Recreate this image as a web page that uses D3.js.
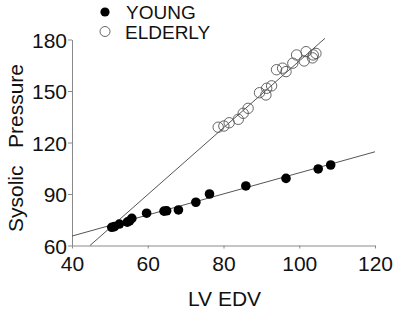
<!DOCTYPE html>
<html>
<head>
<meta charset="utf-8">
<script src="https://cdn.jsdelivr.net/npm/d3@7"></script>
<style>
  body { margin: 0; background: #fff; }
  text { font-family: "Liberation Sans", Arial, sans-serif; fill: #111; }
</style>
</head>
<body>
<div id="chart"></div>
<script>
const xTicks = [40, 60, 80, 100, 120];
const yTicks = [60, 90, 120, 150, 180];

const youngX = [50.5, 51.2, 52.5, 54.6, 55.2, 55.8, 59.7, 64.3, 65.0, 68.1, 72.7, 76.3, 85.9, 96.5, 105.0, 108.3];
const youngY = [70.6, 71.0, 72.5, 73.6, 74.3, 75.8, 78.8, 80.0, 80.2, 80.7, 85.2, 90.0, 94.7, 99.1, 104.6, 106.9];

const elderX = [78.6, 80.1, 81.5, 83.9, 85.2, 86.5, 89.5, 91.2, 91.4, 92.7, 94.0, 95.6, 96.5, 98.3, 99.3, 101.3, 101.8, 103.5, 103.7, 104.4];
const elderY = [128.9, 129.6, 131.5, 133.5, 137.0, 139.9, 149.0, 147.7, 151.6, 153.0, 162.4, 163.3, 161.3, 166.2, 171.0, 167.5, 172.9, 169.3, 171.0, 171.9];

// fitted lines, read as end points
const youngLine = [[40, 65.5], [120, 114.6]];
const elderLine = [[44.75, 60], [106.8, 180.7]];

const width = 403, height = 313;
const margin = { top: 39.5, right: 28, bottom: 67.5, left: 72 };
const innerWidth = width - margin.left - margin.right;
const innerHeight = height - margin.top - margin.bottom;

const svg = d3.select("#chart").append("svg")
  .attr("width", width)
  .attr("height", height);

const g = svg.append("g")
  .attr("transform", `translate(${margin.left},${margin.top})`);

const x = d3.scaleLinear().domain([40, 120]).range([0, innerWidth]);
const y = d3.scaleLinear().domain([60, 180]).range([innerHeight, 0]);

// Axes
const xAxisG = g.append("g")
  .attr("transform", `translate(0,${innerHeight})`)
  .call(d3.axisBottom(x).tickValues(xTicks).tickSize(3).tickSizeOuter(0));
const yAxisG = g.append("g")
  .call(d3.axisLeft(y).tickValues(yTicks).tickSize(4).tickSizeOuter(0));

[xAxisG, yAxisG].forEach(a => {
  a.select(".domain").attr("stroke", "#8a8a8a");
  a.selectAll(".tick line").attr("stroke", "#8a8a8a");
  a.selectAll(".tick text")
    .style("font-family", "Liberation Sans, Arial, sans-serif")
    .style("font-size", "21px")
    .attr("fill", "#111");
});
xAxisG.selectAll(".tick text").attr("dy", "0.95em").attr("y", 6);
yAxisG.selectAll(".tick text").attr("x", -5).attr("dy", "0.36em");

// Lines
const line = d3.line().x(d => x(d[0])).y(d => y(d[1]));
[youngLine, elderLine].forEach(l => {
  g.append("path")
    .attr("d", line(l))
    .attr("fill", "none")
    .attr("stroke", "#555")
    .attr("stroke-width", 1);
});

// Points
g.selectAll(".young")
  .data(youngX.map((v, i) => [v, youngY[i]]))
  .enter().append("circle")
    .attr("class", "young")
    .attr("cx", d => x(d[0]))
    .attr("cy", d => y(d[1]))
    .attr("r", 4.8)
    .attr("fill", "#000");

g.selectAll(".elder")
  .data(elderX.map((v, i) => [v, elderY[i]]))
  .enter().append("circle")
    .attr("class", "elder")
    .attr("cx", d => x(d[0]))
    .attr("cy", d => y(d[1]))
    .attr("r", 5.2)
    .attr("fill", "none")
    .attr("stroke", "#555")
    .attr("stroke-width", 0.9);

// Axis titles
svg.append("text")
  .attr("x", margin.left + innerWidth / 2 + 1)
  .attr("y", 306)
  .attr("text-anchor", "middle")
  .style("font-size", "21px")
  .text("LV EDV");

svg.append("text")
  .attr("transform", `translate(23,148) rotate(-90)`)
  .attr("text-anchor", "middle")
  .style("font-size", "21px")
  .style("white-space", "pre")
  .text("Sysolic   Pressure");

// Legend
const legend = svg.append("g");
legend.append("circle").attr("cx", 105).attr("cy", 12).attr("r", 4.6).attr("fill", "#000");
legend.append("circle").attr("cx", 105).attr("cy", 31.5).attr("r", 5)
  .attr("fill", "none").attr("stroke", "#555").attr("stroke-width", 0.9);
legend.append("text").attr("x", 126).attr("y", 19).style("font-size", "19px").text("YOUNG");
legend.append("text").attr("x", 125).attr("y", 38.5).style("font-size", "19px").text("ELDERLY");
</script>
</body>
</html>
